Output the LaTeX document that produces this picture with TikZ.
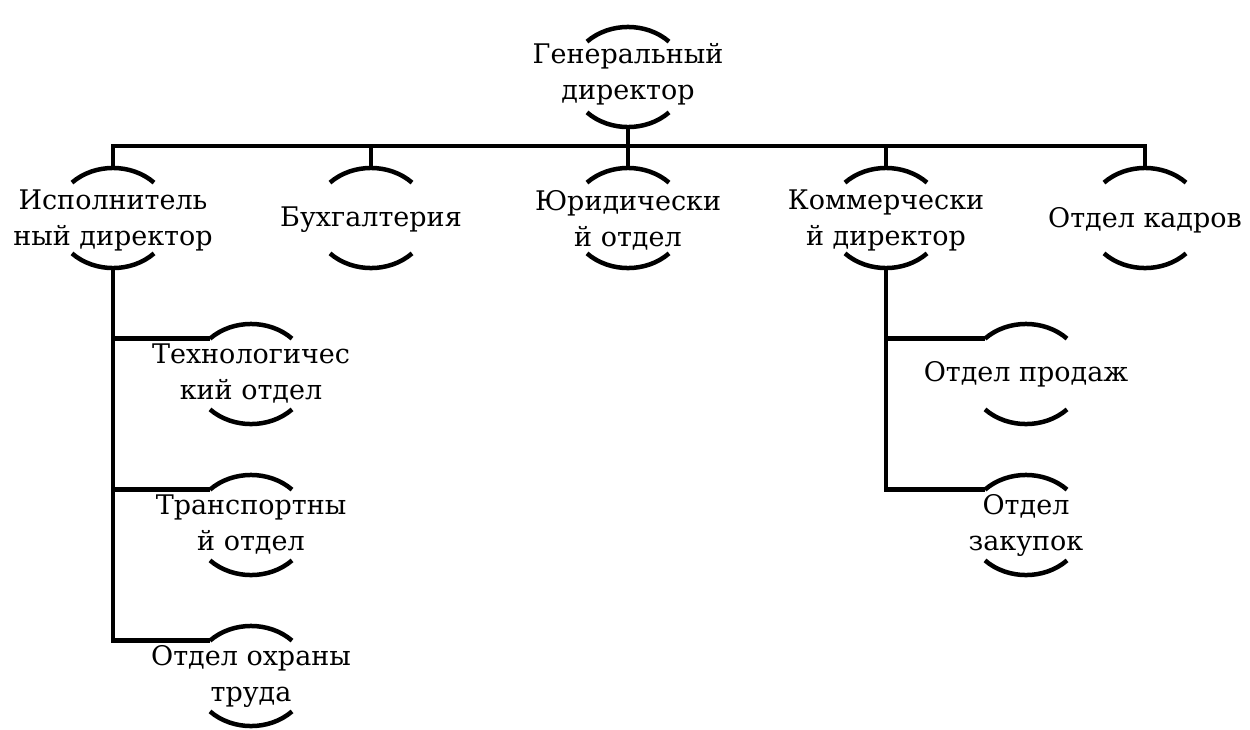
\documentclass[tikz,border=0pt]{standalone}
\usepackage{fontspec}
\newfontfamily\tnr{DejaVu Serif}
\usetikzlibrary{shapes.geometric,calc}
\tikzset{
  shp/.style={ellipse, draw=none, inner sep=0pt, minimum width=116pt, minimum height=100pt},
  txt/.style={align=center, font=\tnr\fontsize{27}{36}\selectfont, inner sep=0pt},
  ln/.style={line width=4.5pt},
}
\newcommand\ovl[1]{%
  \draw[ln] ($(#1)+(41pt,35.4pt)$) arc[start angle=45,end angle=135,x radius=58pt,y radius=50pt];
  \draw[ln] ($(#1)+(-41pt,-35.4pt)$) arc[start angle=225,end angle=315,x radius=58pt,y radius=50pt];}
\begin{document}
\begin{tikzpicture}[x=1pt,y=-1pt]
\useasboundingbox (0,0) rectangle (1250,729);
% shapes
\node[shp] (gd) at (628,77) {};
\node[shp] (isp) at (113,218) {};
\node[shp] (buh) at (371,218) {};
\node[shp] (yur) at (628,218) {};
\node[shp] (kom) at (886,218) {};
\node[shp] (kad) at (1145,218) {};
\node[shp] (tech) at (251,374) {};
\node[shp] (trans) at (251,525) {};
\node[shp] (ohr) at (251,676) {};
\node[shp] (prod) at (1026,374) {};
\node[shp] (zak) at (1026,525) {};
\foreach \n in {gd,isp,buh,yur,kom,kad,tech,trans,ohr,prod,zak}{\ovl{\n}}
% texts
\node[txt] (gd-t) at (628,74) {Генеральный\\директор};
\node[txt] (isp-t) at (113,220) {Исполнитель\\ный директор};
\node[txt] (buh-t) at (371,220) {Бухгалтерия};
\node[txt] (yur-t) at (628,220) {Юридически\\й отдел};
\node[txt] (kom-t) at (886,220) {Коммерчески\\й директор};
\node[txt] (kad-t) at (1145,220) {Отдел кадров};
\node[txt] (tech-t) at (251,374) {Технологичес\\кий отдел};
\node[txt] (trans-t) at (251,525) {Транспортны\\й отдел};
\node[txt] (ohr-t) at (251,676) {Отдел охраны\\труда};
\node[txt] (prod-t) at (1026,374) {Отдел продаж};
\node[txt] (zak-t) at (1026,525) {Отдел\\закупок};
% connectors
\coordinate (bus) at (628,146);
\coordinate (techL) at ($(tech)+(-41pt,35.4pt)$);
\coordinate (transL) at ($(trans)+(-41pt,35.4pt)$);
\coordinate (ohrL) at ($(ohr)+(-41pt,35.4pt)$);
\coordinate (prodL) at ($(prod)+(-41pt,35.4pt)$);
\coordinate (zakL) at ($(zak)+(-41pt,35.4pt)$);
\draw[ln] (gd.south) -- (gd.south |- bus);
\draw[ln] (isp.north) -- (isp.north |- bus) -- (kad.north |- bus) -- (kad.north);
\draw[ln] (buh.north) -- (buh.north |- bus);
\draw[ln] (yur.north) -- (yur.north |- bus);
\draw[ln] (kom.north) -- (kom.north |- bus);
\draw[ln] (isp.south) -- (isp.south |- ohrL) -- (ohrL);
\draw[ln] (isp.south |- techL) -- (techL);
\draw[ln] (isp.south |- transL) -- (transL);
\draw[ln] (kom.south) -- (kom.south |- zakL) -- (zakL);
\draw[ln] (kom.south |- prodL) -- (prodL);
\end{tikzpicture}
\end{document}
